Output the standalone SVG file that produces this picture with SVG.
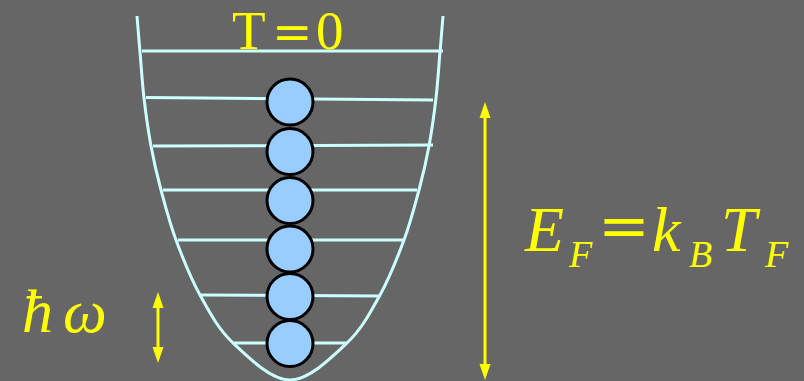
<svg xmlns="http://www.w3.org/2000/svg" width="804" height="381" viewBox="0 0 804 381">
<defs>
<style>
.well{fill:none;stroke:#ccffff;stroke-width:3}
.lvl{stroke:#ccffff;stroke-width:3;fill:none}
.p{fill:#99ccff;stroke:#000;stroke-width:3}
.arr{stroke:#ffff00;stroke-width:3;fill:none}
.y{fill:#ffff00;font-family:"Liberation Serif","Times New Roman",serif}
.it{font-style:italic}
.eq{font-family:"DejaVu Serif",serif;font-style:normal}
</style>
<marker id="ah" viewBox="0 0 16 12" refX="9" refY="6" markerWidth="16" markerHeight="12" markerUnits="userSpaceOnUse" orient="auto-start-reverse">
<path d="M0,0.5 L16,6 L0,11.5 Z" fill="#ffff00"/>
</marker>
</defs>
<rect width="804" height="381" fill="#666666"/>
<g id="well">
<path class="well" d="M137,16 C137.5,22 138.8,38.3 140,52 C141.2,65.7 142.2,82.3 144,98 C145.8,113.7 148.2,130.7 151,146 C153.8,161.3 156.8,174.3 161,190 C165.2,205.7 169.5,222.5 176,240 C182.5,257.5 190.5,277.8 200,295 C209.5,312.2 218,328.8 233,343 C248,357.2 271,380 290,380 C309,380 332,357.2 347,343 C362,328.8 370.5,312.2 380,295 C389.5,277.8 397.5,257.5 404,240 C410.5,222.5 414.8,205.7 419,190 C423.2,174.3 426.2,161.3 429,146 C431.8,130.7 434.2,113.7 436,98 C437.8,82.3 438.8,65.7 440,52 C441.2,38.3 442.5,22 443,16"/>
</g>
<g id="levels">
<line class="lvl" x1="142" y1="51" x2="443" y2="51"/>
<line class="lvl" x1="146" y1="97.5" x2="433" y2="100" stroke-width="2.5"/>
<line class="lvl" x1="153" y1="146" x2="433" y2="145"/>
<line class="lvl" x1="163" y1="190" x2="417" y2="190"/>
<line class="lvl" x1="178" y1="240" x2="403" y2="240"/>
<line class="lvl" x1="201" y1="295" x2="380" y2="296"/>
<line class="lvl" x1="234" y1="343" x2="347" y2="343"/>
</g>
<g id="particles">
<circle class="p" cx="290" cy="102" r="23"/>
<circle class="p" cx="290" cy="151.5" r="23"/>
<circle class="p" cx="290" cy="200.5" r="23"/>
<circle class="p" cx="290" cy="249" r="23"/>
<circle class="p" cx="290" cy="296.5" r="23"/>
<circle class="p" cx="290" cy="343.5" r="23"/>
</g>
<g id="connectors">
<line class="arr" x1="158" y1="299" x2="158" y2="356" marker-start="url(#ah)" marker-end="url(#ah)"/>
<line class="arr" x1="485" y1="109" x2="485" y2="373" marker-start="url(#ah)" marker-end="url(#ah)"/>
</g>
<g id="title">
<text class="y" font-size="55" y="49"><tspan x="232">T</tspan><tspan class="eq" x="272" font-size="48">=</tspan><tspan x="316">0</tspan></text>
</g>
<g id="hbar-omega">
<text class="y it" font-size="62" y="332"><tspan x="22">ħ</tspan><tspan x="63">ω</tspan></text>
</g>
<g id="fermi-energy">
<text class="y it" font-size="64" y="251"><tspan x="525">E</tspan><tspan x="569" y="267" font-size="38">F</tspan><tspan class="eq" x="598" y="247" font-size="62">=</tspan><tspan x="652" y="251">k</tspan><tspan x="689" y="267" font-size="38">B</tspan><tspan x="721" y="251">T</tspan><tspan x="765" y="267" font-size="38">F</tspan></text>
</g>
</svg>
